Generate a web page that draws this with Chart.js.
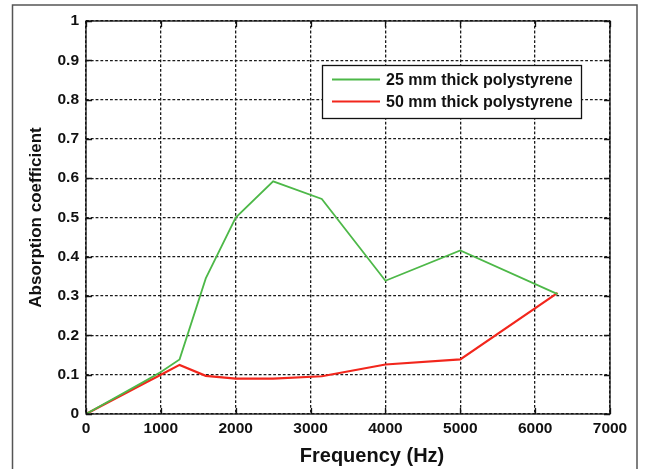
<!DOCTYPE html>
<html>
<head>
<meta charset="utf-8">
<script src="https://cdn.jsdelivr.net/npm/chart.js@4/dist/chart.umd.min.js"></script>
<style>
  html, body { margin: 0; padding: 0; background: #fff; }
  #wrap { position: relative; width: 647px; height: 469px; }
</style>
</head>
<body>
<div id="wrap"><canvas id="c" width="647" height="469"></canvas></div>
<script>
// ---- data ----
const freq25 = [0, 800, 1000, 1250, 1600, 2000, 2500, 3150, 4000, 5000, 6300];
const abs25  = [0, 0.085, 0.107, 0.139, 0.345, 0.5, 0.592, 0.547, 0.339, 0.416, 0.305];
const freq50 = [0, 800, 1000, 1250, 1600, 2000, 2500, 3150, 4000, 5000, 6300];
const abs50  = [0, 0.08, 0.1, 0.125, 0.097, 0.09, 0.09, 0.096, 0.126, 0.139, 0.308];
const seriesLabels = ['25 mm thick polystyrene', '50 mm thick polystyrene'];
const xTitle = 'Frequency (Hz)';
const yTitle = 'Absorption coefficient';
const xMin = 0, xMax = 7000, xStep = 1000;
const yMin = 0, yMax = 1, yStep = 0.1;

const FONT = "'Liberation Sans', Arial, sans-serif";
const GREEN = '#4db848';
const RED = '#f2261c';

const toPts = (xs, ys) => xs.map((x, i) => ({ x: x, y: ys[i] }));

const framePlugin = {
  id: 'frame',
  beforeDraw(chart) {
    const ctx = chart.ctx;
    ctx.save();
    ctx.strokeStyle = '#555';
    ctx.lineWidth = 1.5;
    ctx.strokeRect(12.5, 5, 624.5, 480);
    ctx.restore();
  },
  afterDatasetsDraw(chart) {
    const ctx = chart.ctx;
    const a = chart.chartArea;
    const xs = chart.scales.x, ys = chart.scales.y;
    ctx.save();
    ctx.strokeStyle = '#111';
    ctx.lineWidth = 1.3;
    ctx.setLineDash([]);
    ctx.strokeRect(a.left, a.top, a.right - a.left, a.bottom - a.top);
    // inward tick marks
    const tl = 6;
    ctx.beginPath();
    xs.ticks.forEach(t => {
      const px = Math.round(xs.getPixelForValue(t.value)) + 0.5;
      ctx.moveTo(px, a.bottom); ctx.lineTo(px, a.bottom - tl);
      ctx.moveTo(px, a.top); ctx.lineTo(px, a.top + tl);
    });
    ys.ticks.forEach(t => {
      const py = Math.round(ys.getPixelForValue(t.value)) + 0.5;
      ctx.moveTo(a.left, py); ctx.lineTo(a.left + tl, py);
      ctx.moveTo(a.right, py); ctx.lineTo(a.right - tl, py);
    });
    ctx.stroke();

    // x axis title
    ctx.fillStyle = '#111';
    ctx.font = 'bold 20px ' + FONT;
    ctx.textAlign = 'center';
    ctx.textBaseline = 'middle';
    ctx.fillText(xTitle, 372, 456);

    // legend box
    const bx = 322.5, by = 65.5, bw = 259, bh = 53;
    ctx.fillStyle = '#fff';
    ctx.fillRect(bx, by, bw, bh);
    ctx.strokeStyle = '#111';
    ctx.lineWidth = 1.3;
    ctx.strokeRect(bx, by, bw, bh);
    ctx.font = 'bold 16px ' + FONT;
    ctx.textAlign = 'left';
    ctx.textBaseline = 'middle';
    const rows = [79.5, 101.5];
    chart.data.datasets.forEach((ds, i) => {
      ctx.strokeStyle = ds.borderColor;
      ctx.lineWidth = ds.borderWidth;
      ctx.beginPath();
      ctx.moveTo(332, rows[i]); ctx.lineTo(380, rows[i]);
      ctx.stroke();
      ctx.fillStyle = '#111';
      ctx.fillText(ds.label, 386, rows[i] + 1);
    });
    ctx.restore();
  }
};

new Chart(document.getElementById('c'), {
  type: 'line',
  data: {
    datasets: [
      { label: seriesLabels[0], data: toPts(freq25, abs25), borderColor: GREEN, borderWidth: 1.8,
        pointRadius: 0, tension: 0, fill: false },
      { label: seriesLabels[1], data: toPts(freq50, abs50), borderColor: RED, borderWidth: 2.2,
        pointRadius: 0, tension: 0, fill: false }
    ]
  },
  options: {
    responsive: false,
    animation: false,
    events: [],
    layout: { padding: { left: 0, top: 21, right: 37, bottom: 0 } },
    plugins: { legend: { display: false }, tooltip: { enabled: false } },
    scales: {
      x: {
        type: 'linear', min: xMin, max: xMax,
        ticks: { stepSize: xStep, padding: 5, color: '#111',
          font: { family: FONT, size: 15.5, weight: 'bold' },
          callback: v => String(v), maxRotation: 0 },
        grid: { color: '#1a1a1a', lineWidth: 1.3, drawTicks: false },
        border: { display: false, dash: [2.8, 2] },
        afterFit: s => { s.height = 55; }
      },
      y: {
        type: 'linear', min: yMin, max: yMax,
        ticks: { stepSize: yStep, padding: 7, color: '#111',
          font: { family: FONT, size: 15.5, weight: 'bold' },
          callback: v => String(Number(v.toFixed(1))) },
        grid: { color: '#1a1a1a', lineWidth: 1.3, drawTicks: false },
        border: { display: false, dash: [2.8, 2] },
        title: { display: true, text: yTitle, color: '#111',
          font: { family: FONT, size: 17, weight: 'bold' },
          padding: { top: 26, bottom: 0 } },
        afterFit: s => { s.width = 86; }
      }
    }
  },
  plugins: [framePlugin]
});
</script>
</body>
</html>
